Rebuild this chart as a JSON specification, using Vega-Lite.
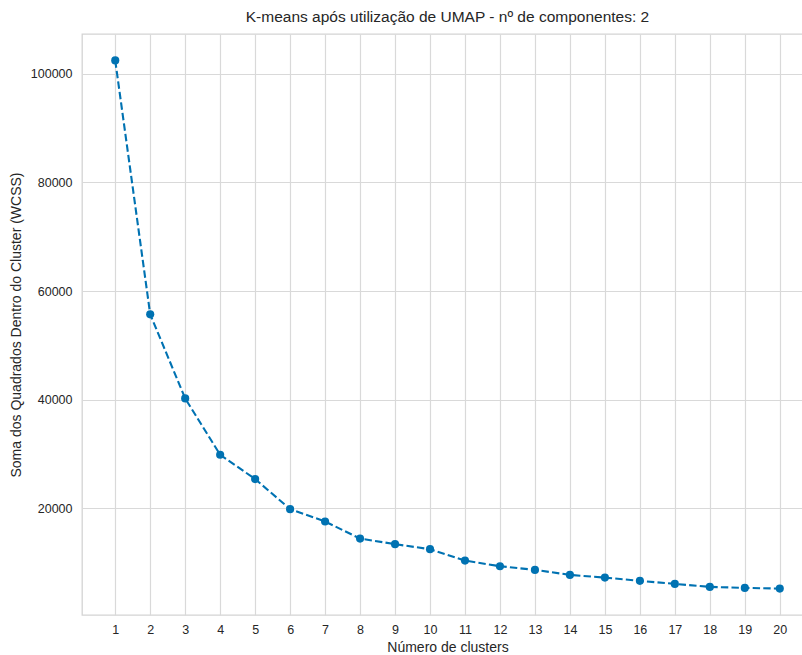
{
  "$schema": "https://vega.github.io/schema/vega-lite/v6.json",
  "autosize": {"type": "none"},
  "padding": {"left": 82, "top": 34, "right": 0, "bottom": 40},
  "width": 731,
  "height": 581,
  "background": "white",
  "config": {
    "font": "Liberation Sans",
    "view": {"stroke": "#d4d4d4", "strokeWidth": 1.3},
    "axis": {
      "domain": false,
      "ticks": false,
      "grid": true,
      "gridColor": "#d9d9d9",
      "gridWidth": 1.2,
      "labelFont": "Liberation Sans",
      "labelFontSize": 12.5,
      "labelColor": "#262626",
      "titleFont": "Liberation Sans",
      "titleFontSize": 14,
      "titleFontWeight": "normal",
      "titleColor": "#262626"
    },
    "title": {"font": "Liberation Sans", "fontSize": 15.5, "fontWeight": "normal", "color": "#262626", "offset": 9}
  },
  "title": {"text": "K-means após utilização de UMAP - nº de componentes: 2", "anchor": "middle"},
  "data": {
    "values": [
      {"k": 1, "wcss": 102430},
      {"k": 2, "wcss": 55710},
      {"k": 3, "wcss": 40240},
      {"k": 4, "wcss": 29870},
      {"k": 5, "wcss": 25400},
      {"k": 6, "wcss": 19870},
      {"k": 7, "wcss": 17590},
      {"k": 8, "wcss": 14450},
      {"k": 9, "wcss": 13420},
      {"k": 10, "wcss": 12500},
      {"k": 11, "wcss": 10400},
      {"k": 12, "wcss": 9370},
      {"k": 13, "wcss": 8690},
      {"k": 14, "wcss": 7770},
      {"k": 15, "wcss": 7270},
      {"k": 16, "wcss": 6670},
      {"k": 17, "wcss": 6110},
      {"k": 18, "wcss": 5560},
      {"k": 19, "wcss": 5380},
      {"k": 20, "wcss": 5250}
    ]
  },
  "encoding": {
    "x": {
      "field": "k",
      "type": "quantitative",
      "scale": {"domain": [0.05, 20.95], "nice": false, "zero": false},
      "axis": {
        "values": [1,2,3,4,5,6,7,8,9,10,11,12,13,14,15,16,17,18,19,20],
        "format": "d",
        "labelPadding": 8,
        "title": "Número de clusters",
        "titlePadding": 5,
        "labelFlush": false,
        "labelOverlap": false
      }
    },
    "y": {
      "field": "wcss",
      "type": "quantitative",
      "scale": {"domain": [390, 107290], "nice": false, "zero": false},
      "axis": {
        "values": [20000, 40000, 60000, 80000, 100000],
        "format": "d",
        "labelPadding": 10,
        "title": "Soma dos Quadrados Dentro do Cluster (WCSS)",
        "titlePadding": 7
      }
    }
  },
  "layer": [
    {
      "mark": {"type": "line", "color": "#0072B2", "strokeWidth": 2.1, "strokeDash": [7.4, 3.2]}
    },
    {
      "mark": {"type": "circle", "color": "#0072B2", "opacity": 1, "size": 66}
    }
  ]
}
